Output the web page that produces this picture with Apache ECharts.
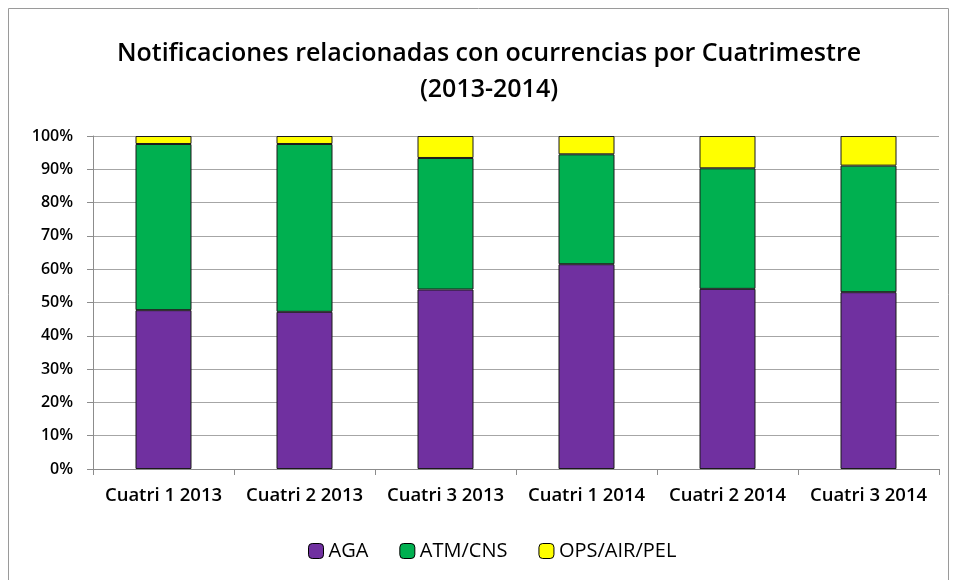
<!DOCTYPE html>
<html>
<head>
<meta charset="utf-8">
<script src="https://cdn.jsdelivr.net/npm/echarts@6/dist/echarts.min.js"></script>
<style>
  html, body { margin: 0; padding: 0; background: #fff; }
  #chart { width: 956px; height: 580px; }
</style>
</head>
<body>
<div id="chart"></div>
<script>
// categories and values (percent of each cuatrimestre)
var categories = ['Cuatri 1 2013', 'Cuatri 2 2013', 'Cuatri 3 2013', 'Cuatri 1 2014', 'Cuatri 2 2014', 'Cuatri 3 2014'];
var aga = [47.7, 47.2, 53.9, 61.5, 54.1, 53.1];
var atmCns = [49.9, 50.4, 39.5, 33.0, 36.2, 38.0];
var opsAirPel = [2.4, 2.4, 6.6, 5.5, 9.7, 8.9];
var seriesNames = ['AGA', 'ATM/CNS', 'OPS/AIR/PEL'];
var colors = ['#7030A0', '#00B050', '#FFFF00'];

var myChart = echarts.init(document.getElementById('chart'));
var font = 'Open Sans';

function barSeries(name, data) {
    return {
        name: name,
        type: 'bar',
        stack: 'total',
        barWidth: 56,
        data: data,
        itemStyle: { borderColor: '#1a1a1a', borderWidth: 1 }
    };
}

var option = {
    animation: false,
    color: colors,
    textStyle: { fontFamily: font },
    title: {
        text: 'Notificaciones relacionadas con ocurrencias por Cuatrimestre\n(2013-2014)',
        left: 484,
        textAlign: 'center',
        top: 31,
        textStyle: { fontSize: 25, fontWeight: 600, color: '#000', lineHeight: 36, fontFamily: font }
    },
    graphic: [{
        type: 'rect',
        shape: { x: 8.5, y: 8.5, width: 940, height: 600 },
        style: { fill: 'none', stroke: '#9a9a9a', lineWidth: 1 },
        silent: true
    }],
    legend: {
        bottom: 14,
        left: 303,
        itemWidth: 15,
        itemHeight: 15,
        itemGap: 31,
        data: seriesNames,
        itemStyle: { borderColor: '#000', borderWidth: 1 },
        textStyle: { fontSize: 20, color: '#000', fontFamily: font }
    },
    grid: { left: 93, right: 17, top: 136, bottom: 111, containLabel: false },
    xAxis: {
        type: 'category',
        data: categories,
        axisLine: { lineStyle: { color: '#8c8c8c' } },
        axisTick: { show: true, length: 6, interval: 0, lineStyle: { color: '#8c8c8c' } },
        axisLabel: { interval: 0, fontSize: 18.5, fontWeight: 600, color: '#000', margin: 17 }
    },
    yAxis: {
        type: 'value',
        min: 0,
        max: 100,
        interval: 10,
        axisLine: { show: true, lineStyle: { color: '#8c8c8c' } },
        axisTick: { show: true, length: 6, lineStyle: { color: '#8c8c8c' } },
        axisLabel: { formatter: '{value}%', fontSize: 16, fontWeight: 600, color: '#000', margin: 20 },
        splitLine: { lineStyle: { color: '#a6a6a6' } }
    },
    series: [
        barSeries(seriesNames[0], aga),
        barSeries(seriesNames[1], atmCns),
        barSeries(seriesNames[2], opsAirPel)
    ]
};

myChart.setOption(option);
</script>
</body>
</html>
